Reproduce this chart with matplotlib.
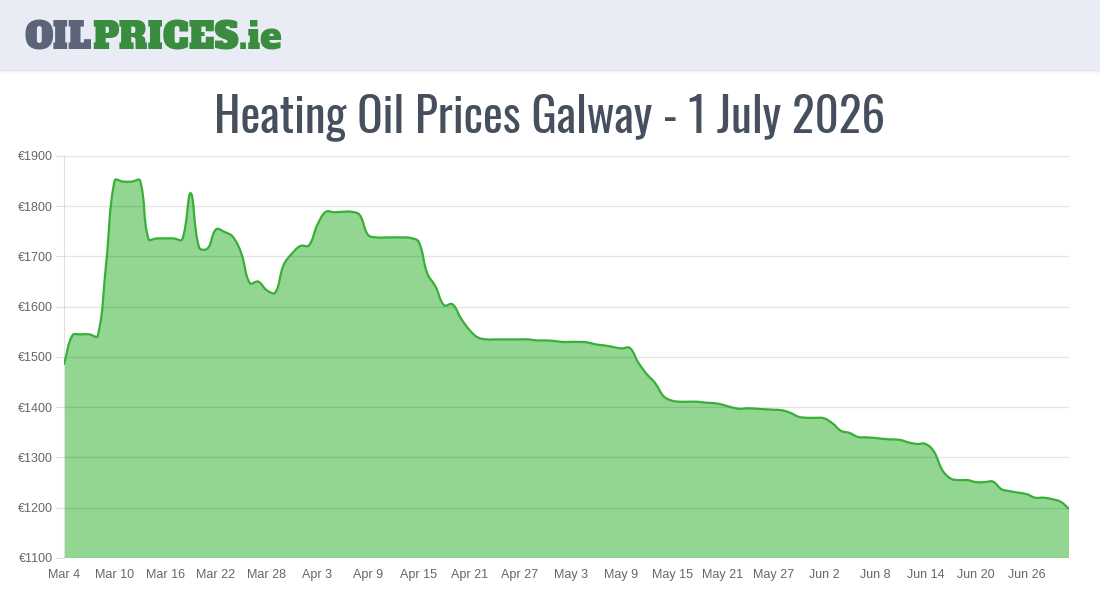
"""Heating oil price chart (Galway) - daily prices, smoothed area line."""
import matplotlib
matplotlib.use("Agg")
import matplotlib.pyplot as plt
from matplotlib.path import Path
from matplotlib.patches import PathPatch, Rectangle
import numpy as np
import pandas as pd

# data - daily price in EUR, 4 Mar .. 1 Jul 2026
dates = pd.date_range("2026-03-04", "2026-07-01", freq="D")
prices = [
    1486, 1543, 1545, 1545, 1542, 1688, 1851, 1849, 1849, 1851,
    1735, 1736, 1736, 1736, 1734, 1826, 1718, 1716, 1754, 1749,
    1739, 1706, 1647, 1650, 1633, 1628, 1683, 1706, 1721, 1722,
    1763, 1789, 1788, 1789, 1789, 1783, 1743, 1738, 1738, 1738,
    1738, 1737, 1729, 1667, 1640, 1603, 1605, 1577, 1554, 1539,
    1535, 1535, 1535, 1535, 1535, 1535, 1533, 1533, 1532, 1530,
    1530, 1530, 1529, 1525, 1523, 1520, 1517, 1518, 1489, 1466,
    1448, 1422, 1413, 1411, 1411, 1411, 1409, 1408, 1405, 1400,
    1397, 1398, 1397, 1396, 1395, 1394, 1389, 1381, 1379, 1379,
    1378, 1368, 1353, 1349, 1341, 1340, 1339, 1337, 1336, 1335,
    1330, 1327, 1327, 1312, 1275, 1258, 1255, 1255, 1251, 1251,
    1252, 1237, 1233, 1230, 1227, 1220, 1220, 1217, 1212, 1198,
]
y_ticks = [1100, 1200, 1300, 1400, 1500, 1600, 1700, 1800, 1900]
tick_every = 6

TITLE = "Heating Oil Prices Galway - 1 July 2026"
LINE = "#36b037"
FILL = "#92d692"
TXT = "#666666"


def spline_path(x, y, sx, sy, tension=0.4, base=None):
    """Chart.js style bezier (tension) through points; control points are
    computed in pixel-ish space (sx, sy = px per unit) then mapped back."""
    px, py = np.asarray(x, float) * sx, np.asarray(y, float) * sy
    n = len(px)
    c1, c2 = [], []  # control before / after each point
    for i in range(n):
        p0 = (px[max(i - 1, 0)], py[max(i - 1, 0)])
        p1 = (px[i], py[i])
        p2 = (px[min(i + 1, n - 1)], py[min(i + 1, n - 1)])
        d01 = np.hypot(p1[0] - p0[0], p1[1] - p0[1])
        d12 = np.hypot(p2[0] - p1[0], p2[1] - p1[1])
        tot = d01 + d12
        s01 = d01 / tot if tot else 0
        s12 = d12 / tot if tot else 0
        fa, fb = tension * s01, tension * s12
        c1.append((p1[0] - fa * (p2[0] - p0[0]), p1[1] - fa * (p2[1] - p0[1])))
        c2.append((p1[0] + fb * (p2[0] - p0[0]), p1[1] + fb * (p2[1] - p0[1])))
    verts = [(px[0], py[0])]
    codes = [Path.MOVETO]
    for i in range(1, n):
        verts += [c2[i - 1], c1[i], (px[i], py[i])]
        codes += [Path.CURVE4] * 3
    verts = [(a / sx, b / sy) for a, b in verts]
    if base is not None:
        verts += [(x[-1], base), (x[0], base), (x[0], y[0])]
        codes += [Path.LINETO, Path.LINETO, Path.CLOSEPOLY]
    return Path(verts, codes)


fig = plt.figure(figsize=(11, 6), dpi=100)

# header band + soft shadow
fig.patches.append(Rectangle((0, 530 / 600), 1, 70 / 600, transform=fig.transFigure,
                             color="#e9ecf4", zorder=0))
for k in range(6):
    fig.patches.append(Rectangle((0, (530 - k - 1) / 600), 1, 1 / 600,
                                 transform=fig.transFigure, color="#000000",
                                 alpha=0.035 * (6 - k) / 6, lw=0, zorder=0))

# logo, two colours
logo_kw = dict(family=["Alfa Slab One", "DejaVu Serif"], fontsize=26, va="center")
t1 = fig.text(24 / 1100, 1 - 39 / 600, "OIL", color="#5b6478", **logo_kw)
fig.canvas.draw()
bb = t1.get_window_extent()
fig.text((bb.x1 + 1) / 1100, 1 - 39 / 600, "PRICES.ie", color="#3a8c3e", **logo_kw)

fig.text(0.5, 1 - 117 / 600, TITLE, ha="center", va="center", fontsize=34,
         color="#464f5e", family=["Oswald", "DejaVu Sans"], weight=500)

ax = fig.add_axes([64 / 1100, 42 / 600, 1005 / 1100, 402 / 600])
x = np.arange(len(prices))
ymin, ymax = y_ticks[0], y_ticks[-1]
sx = 1005 / (len(prices) - 1)
sy = 402 / (ymax - ymin)

ax.add_patch(PathPatch(spline_path(x, prices, sx, sy, base=ymin), facecolor=FILL,
                       edgecolor="none", zorder=1))
ax.add_patch(PathPatch(spline_path(x, prices, sx, sy), facecolor="none",
                       edgecolor=LINE, lw=1.6, zorder=3, capstyle="round"))

ax.set_xlim(0, len(prices) - 1)
ax.set_ylim(ymin, ymax)
ax.set_yticks(y_ticks)
ax.set_yticklabels([f"€{v}" for v in y_ticks], family="Liberation Sans")
xt = x[::tick_every]
ax.set_xticks(xt)
ax.set_xticklabels([f"{d.strftime('%b')} {d.day}" for d in dates[::tick_every]],
                   family="Liberation Sans")
ax.tick_params(axis="y", length=6, color="#e0e0e0", labelsize=9, labelcolor=TXT, pad=2)
ax.tick_params(axis="x", length=0, labelsize=9, labelcolor=TXT, pad=8)
ax.grid(axis="y", color="#000000", alpha=0.1, lw=1, zorder=2)
ax.set_axisbelow(False)
for s in ["top", "right", "bottom"]:
    ax.spines[s].set_visible(False)
ax.spines["left"].set_color("#e0e0e0")

fig.savefig("out.png", dpi=100)
